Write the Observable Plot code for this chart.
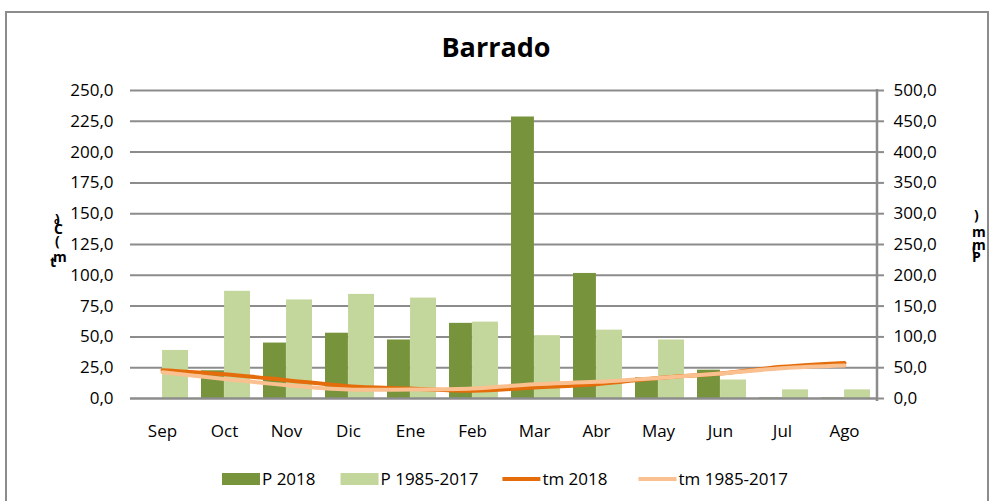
<!DOCTYPE html>
<html>
<head>
<meta charset="utf-8">
<script src="https://cdn.jsdelivr.net/npm/d3@7"></script>
<script src="https://cdn.jsdelivr.net/npm/@observablehq/plot@0.6"></script>
<style>
  html, body { margin: 0; padding: 0; background: #fff; width: 992px; height: 501px; overflow: hidden; }
  #border { position: absolute; left: 5px; top: 11px; width: 984px; height: 500px; border: 2px solid #8c8c8c; box-sizing: border-box; }
  #title { position: absolute; left: 0; top: 33px; width: 992px; text-align: center; font: bold 27px/27px "Open Sans", sans-serif; color: #000; }
  #chart { position: absolute; left: 0; top: 70px; }
  #overlay { position: absolute; left: 0; top: 0; }
</style>
</head>
<body>
<div id="border"></div>
<div id="title">Barrado</div>
<div id="chart"></div>
<svg id="overlay" width="992" height="501"></svg>
<script>
// ---- data ----
const months = ["Sep","Oct","Nov","Dic","Ene","Feb","Mar","Abr","May","Jun","Jul","Ago"];
const p2018 = [0, 45, 90, 106, 95, 122, 457, 203, 34, 46, 1, 1];          // mm (right axis)
const pNormal = [78, 174, 160, 169, 163, 124, 102, 111, 95, 30, 14, 14];   // mm (right axis)
const tm2018 = [23.0, 19.7, 14.9, 10.0, 8.1, 6.2, 8.9, 11.6, 16.7, 20.3, 25.7, 28.9]; // left axis
const tmNormal = [21.3, 15.9, 10.8, 7.3, 7.3, 8.1, 11.6, 13.5, 16.7, 20.3, 24.6, 26.8]; // left axis
const leftTicks = [0, 25, 50, 75, 100, 125, 150, 175, 200, 225, 250];
const rightTicks = [0, 50, 100, 150, 200, 250, 300, 350, 400, 450, 500];
const seriesNames = ["P 2018", "P 1985-2017", "tm 2018", "tm 1985-2017"];
const title = "Barrado";
const leftTitle = "tm(ºC)";
const rightTitle = "P(mm)";

const colors = { p18: "#77933C", pn: "#C3D69B", t18: "#E46C0A", tn: "#FAC090" };
const grid = "#8c8c8c";
const fmt = d => d3.format(".1f")(d).replace(".", ",");
const ratio = 2; // right axis units per left axis unit

const rows = months.map((m, i) => ({ month: m, p18: p2018[i], pn: pNormal[i], t18: tm2018[i], tn: tmNormal[i] }));

const W = 992, H = 380, mL = 130, mR = 116, mT = 20, mB = 52;

const plot = Plot.plot({
  width: W, height: H,
  marginLeft: mL, marginRight: mR, marginTop: mT, marginBottom: mB,
  x: { type: "band", domain: months, padding: 0, axis: null, label: null },
  y: { domain: [0, 250], axis: null, label: null },
  style: { fontFamily: "'Open Sans', sans-serif", fontSize: "17px", color: "#000", background: "transparent", overflow: "visible" },
  marks: [
    Plot.ruleY(leftTicks.filter(d => d > 0), { stroke: grid, strokeWidth: 2, insetRight: -1 }),
    Plot.barY(rows, { x: "month", y: d => d.p18 / ratio, fill: colors.p18, insetLeft: 8, insetRight: 31.08 }),
    Plot.barY(rows, { x: "month", y: d => d.pn / ratio, fill: colors.pn, insetLeft: 31.08, insetRight: 5 }),
    Plot.ruleY([0], { stroke: grid, strokeWidth: 2.5, insetRight: -1 }),
    Plot.line(rows, { x: "month", y: "t18", stroke: colors.t18, strokeWidth: 4, curve: "catmull-rom" }),
    Plot.line(rows, { x: "month", y: "tn", stroke: colors.tn, strokeWidth: 4, curve: "catmull-rom" }),
    Plot.axisX({ tickSize: 0, tickPadding: 26, fontSize: 17, label: null }),
    Plot.axisY(leftTicks, { anchor: "left", tickSize: 0, tickPadding: 17, tickFormat: fmt, fontSize: 17, label: null }),
    Plot.axisY(rightTicks.map(d => d / ratio), { anchor: "right", tickSize: 7, tickPadding: 10, tickFormat: d => fmt(d * ratio), fontSize: 17, stroke: grid, strokeWidth: 2, label: null })
  ]
});
document.getElementById("chart").appendChild(plot);

// right axis line
const ys = plot.scale("y");
const svgP = d3.select(plot);
svgP.append("line")
  .attr("x1", W - mR + 1).attr("x2", W - mR + 1)
  .attr("y1", ys.apply(250) - 1).attr("y2", ys.apply(0) + 3)
  .attr("stroke", grid).attr("stroke-width", 2.5);

// overlay: axis titles (upright stacked glyphs) and legend
const ov = d3.select("#overlay");
ov.append("text")
  .attr("x", [50, 53, 55, 54, 54, 55].join(" "))
  .attr("y", [267, 262, 246, 229, 234, 224].join(" "))
  .attr("font-family", "'Open Sans', sans-serif").attr("font-size", 14).attr("font-weight", "bold")
  .text(leftTitle);
ov.append("text")
  .attr("x", [972, 972, 972, 972, 974].join(" "))
  .attr("y", [262, 253, 250, 237, 220].join(" "))
  .attr("font-family", "'Open Sans', sans-serif").attr("font-size", 14).attr("font-weight", "bold")
  .text(rightTitle);

const legendY = 479;
const legendColors = [colors.p18, colors.pn, colors.t18, colors.tn];
let lx = 222;
seriesNames.forEach((name, i) => {
  const isLine = i >= 2;
  if (isLine) {
    ov.append("line").attr("x1", lx).attr("x2", lx + 38).attr("y1", legendY).attr("y2", legendY)
      .attr("stroke", legendColors[i]).attr("stroke-width", 4);
  } else {
    ov.append("rect").attr("x", lx).attr("y", legendY - 6).attr("width", 38).attr("height", 12)
      .attr("fill", legendColors[i]);
  }
  const t = ov.append("text").attr("x", lx + 40).attr("y", legendY + 6)
    .attr("font-family", "'Open Sans', sans-serif").attr("font-size", 17).text(name);
  const w = t.node().getComputedTextLength();
  lx += 40 + w + (i === 1 ? 24 : i === 2 ? 31 : 25);
});
</script>
</body>
</html>
